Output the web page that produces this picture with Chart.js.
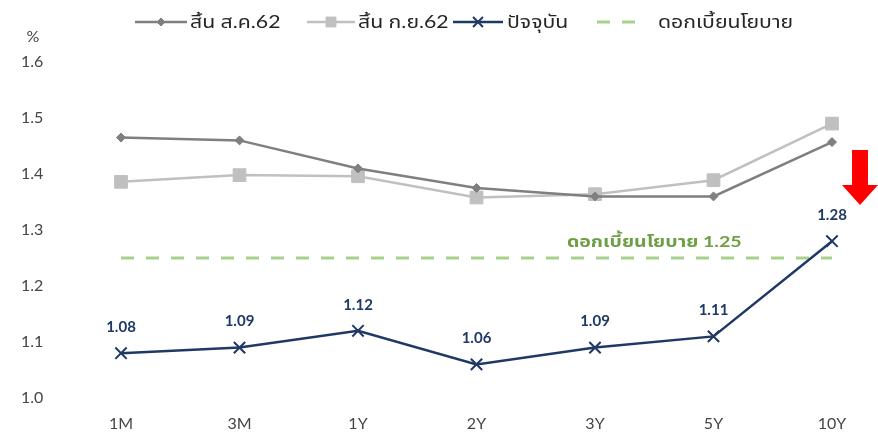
<!DOCTYPE html>
<html>
<head>
<meta charset="utf-8">
<script src="https://cdn.jsdelivr.net/npm/chart.js@4/dist/chart.umd.min.js"></script>
<style>
  html, body { margin: 0; padding: 0; background: #ffffff; }
  #wrap { width: 878px; height: 432px; position: relative; }
</style>
</head>
<body>
<div id="wrap"><canvas id="c" width="878" height="432"></canvas></div>
<script>
// Tenors along the yield curve
const categories = ['1M', '3M', '1Y', '2Y', '3Y', '5Y', '10Y'];
// Government bond yields (%), end of August 2019 (B.E. 2562)
const endAug = [1.465, 1.46, 1.41, 1.375, 1.36, 1.36, 1.457];
// End of September 2019
const endSep = [1.386, 1.398, 1.396, 1.358, 1.364, 1.389, 1.49];
// Latest yields
const current = [1.08, 1.09, 1.12, 1.06, 1.09, 1.11, 1.28];
// Policy rate (%)
const policyRate = 1.25;
const policyLine = categories.map(() => policyRate);

const seriesNames = ['สิ้น ส.ค.62', 'สิ้น ก.ย.62', 'ปัจจุบัน', 'ดอกเบี้ยนโยบาย'];
const yTicks = [1.0, 1.1, 1.2, 1.3, 1.4, 1.5, 1.6];

const FONT = "Lato, 'Noto Sans Thai', 'Noto Sans', 'DejaVu Sans', sans-serif";
const NAVY = '#1f3864';
const GREEN_LINE = '#a9d18e';
const GREEN_TEXT = '#6e9f45';
const AXIS_TEXT = '#454545';

// Draw text slightly widened (the Thai face used here runs narrow)
function wideText(ctx, text, x, y, stretch) {
  ctx.save();
  ctx.translate(x, y);
  ctx.scale(stretch, 1);
  ctx.fillText(text, 0, 0);
  ctx.restore();
}

// Legend row across the top: line sample with marker, then the label
const legendSlots = [
  { line: [135, 187], text: 190 },
  { line: [307, 355], text: 358 },
  { line: [453, 503], text: 507 },
  { line: [597, 635], text: 658 }
];
const topLegend = {
  id: 'topLegend',
  afterDraw(chart) {
    const ctx = chart.ctx;
    const y = 22;
    ctx.save();
    chart.data.datasets.forEach((ds, i) => {
      const slot = legendSlots[i];
      const isDash = !!ds.borderDash && ds.borderDash.length;
      ctx.save();
      ctx.strokeStyle = ds.borderColor;
      ctx.lineWidth = ds.borderWidth;
      if (isDash) ctx.setLineDash([13, 12]);
      ctx.beginPath();
      ctx.moveTo(slot.line[0], y);
      ctx.lineTo(slot.line[1], y);
      ctx.stroke();
      ctx.restore();
      if (ds.pointRadius > 0) {
        ctx.fillStyle = ds.pointBackgroundColor;
        ctx.strokeStyle = ds.pointBorderColor;
        ctx.lineWidth = ds.pointBorderWidth;
        Chart.helpers.drawPoint(ctx, {
          pointStyle: ds.pointStyle,
          radius: ds.legendRadius,
          borderWidth: ds.pointBorderWidth,
          rotation: 0
        }, (slot.line[0] + slot.line[1]) / 2, y);
      }
      ctx.fillStyle = '#262626';
      ctx.font = '17px ' + FONT;
      ctx.textBaseline = 'middle';
      ctx.textAlign = 'left';
      wideText(ctx, ds.label, slot.text, y + 1, 1.25);
    });
    ctx.restore();
  }
};

// Value labels over the latest curve, policy-rate caption, unit and arrow
const annotations = {
  id: 'annotations',
  afterDatasetsDraw(chart) {
    const ctx = chart.ctx;
    const xs = chart.scales.x;
    const ys = chart.scales.y;
    ctx.save();

    // value labels
    const meta = chart.getDatasetMeta(2);
    ctx.font = 'bold 15px ' + FONT;
    ctx.fillStyle = NAVY;
    ctx.textAlign = 'center';
    ctx.textBaseline = 'middle';
    meta.data.forEach((pt, i) => {
      ctx.fillText(current[i].toFixed(2), pt.x, pt.y - 26);
    });

    // policy-rate caption
    ctx.fillStyle = GREEN_TEXT;
    ctx.font = 'bold 16px ' + FONT;
    const cx = (xs.getPixelForValue(4) + xs.getPixelForValue(5)) / 2;
    wideText(ctx, seriesNames[3] + ' ' + policyRate.toFixed(2), cx, ys.getPixelForValue(policyRate) - 16, 1.22);

    // unit
    ctx.fillStyle = AXIS_TEXT;
    ctx.font = '16px ' + FONT;
    ctx.fillText('%', 33, 37);

    // red down arrow
    ctx.fillStyle = '#ff0000';
    const ax = 860, top = 150, neck = 185, tip = 205;
    ctx.beginPath();
    ctx.moveTo(ax - 8, top);
    ctx.lineTo(ax + 8, top);
    ctx.lineTo(ax + 8, neck);
    ctx.lineTo(ax + 18, neck);
    ctx.lineTo(ax, tip);
    ctx.lineTo(ax - 18, neck);
    ctx.lineTo(ax - 8, neck);
    ctx.closePath();
    ctx.fill();
    ctx.restore();
  }
};

new Chart(document.getElementById('c'), {
  type: 'line',
  data: {
    labels: categories,
    datasets: [
      {
        label: seriesNames[0],
        data: endAug,
        borderColor: '#7f7f7f',
        backgroundColor: '#7f7f7f',
        borderWidth: 2.5,
        pointStyle: 'rectRot',
        pointRadius: 4.5,
        legendRadius: 4,
        pointBackgroundColor: '#7f7f7f',
        pointBorderColor: '#7f7f7f',
        pointBorderWidth: 1,
        tension: 0,
        order: 2
      },
      {
        label: seriesNames[1],
        data: endSep,
        borderColor: '#c0c0c0',
        backgroundColor: '#c0c0c0',
        borderWidth: 2.5,
        pointStyle: 'rect',
        pointRadius: 9,
        legendRadius: 7,
        pointBackgroundColor: '#c0c0c0',
        pointBorderColor: '#c0c0c0',
        pointBorderWidth: 1,
        tension: 0,
        order: 3
      },
      {
        label: seriesNames[2],
        data: current,
        borderColor: NAVY,
        backgroundColor: NAVY,
        borderWidth: 2.5,
        pointStyle: 'crossRot',
        pointRadius: 8,
        legendRadius: 7,
        pointBorderColor: NAVY,
        pointBackgroundColor: NAVY,
        pointBorderWidth: 2,
        tension: 0,
        order: 0
      },
      {
        label: seriesNames[3],
        data: policyLine,
        borderColor: GREEN_LINE,
        backgroundColor: GREEN_LINE,
        borderWidth: 3,
        borderDash: [13, 12],
        pointRadius: 0,
        tension: 0,
        order: 1
      }
    ]
  },
  options: {
    responsive: false,
    animation: false,
    events: [],
    layout: { padding: { top: 62, right: 46, bottom: 0, left: 21 } },
    plugins: {
      legend: { display: false },
      tooltip: { enabled: false },
      title: { display: false }
    },
    scales: {
      x: {
        offset: false,
        grid: { display: false, drawTicks: false },
        border: { display: false },
        ticks: {
          color: AXIS_TEXT,
          font: { family: FONT, size: 16 },
          padding: 16,
          maxRotation: 0
        },
        afterFit(s) { s.height = 34; }
      },
      y: {
        min: 1.0,
        max: 1.6,
        grid: { display: false, drawTicks: false },
        border: { display: false },
        afterBuildTicks(s) { s.ticks = yTicks.map(v => ({ value: v })); },
        ticks: {
          color: AXIS_TEXT,
          font: { family: FONT, size: 16 },
          padding: 2,
          crossAlign: 'far',
          callback: v => Number(v).toFixed(1)
        },
        afterFit(s) { s.width = 100; }
      }
    }
  },
  plugins: [topLegend, annotations]
});
</script>
</body>
</html>
